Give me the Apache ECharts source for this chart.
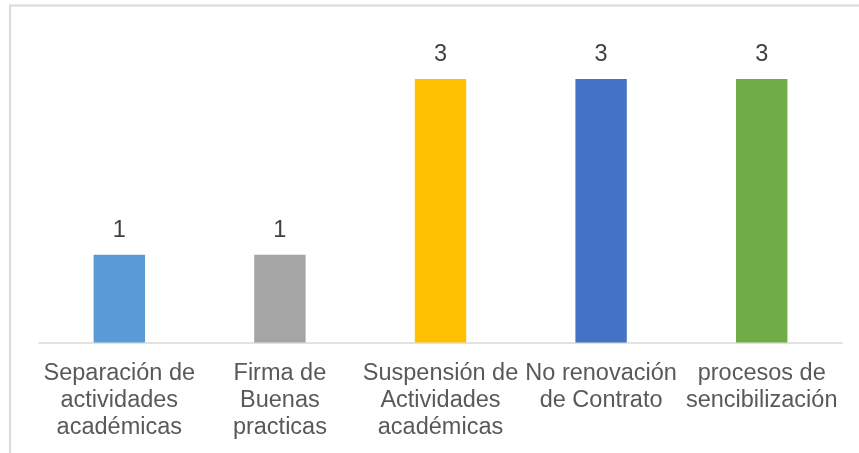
<!DOCTYPE html>
<html>
<head>
<meta charset="utf-8">
<script src="https://cdn.jsdelivr.net/npm/echarts@6/dist/echarts.min.js"></script>
<style>
  html, body { margin: 0; padding: 0; background: #fff; }
  #myChart { width: 859px; height: 453px; }
</style>
</head>
<body>
<div id="myChart"></div>
<script>
// categories (line breaks as in the picture)
var categories = [
  "Separación de\nactividades\nacadémicas",
  "Firma de\nBuenas\npracticas",
  "Suspensión de\nActividades\nacadémicas",
  "No renovación\nde Contrato",
  "procesos de\nsencibilización"
];
var values = [1, 1, 3, 3, 3];
var barColors = ["#5B9BD5", "#A5A5A5", "#FFC000", "#4472C4", "#70AD47"];

var chart = echarts.init(document.getElementById("myChart"));

var options = {
  animation: false,
  textStyle: { fontFamily: "Liberation Sans, Arial, sans-serif" },
  graphic: [
    {
      type: "rect",
      shape: { x: 10, y: 5.5, width: 900, height: 500 },
      style: { fill: "none", stroke: "#D9D9D9", lineWidth: 2 },
      silent: true
    }
  ],
  grid: {
    left: 39,
    right: 17,
    top: 35,
    bottom: 110.5
  },
  xAxis: {
    type: "category",
    data: categories,
    axisTick: { show: false },
    axisLine: {
      lineStyle: { color: "#D9D9D9", width: 1.5 }
    },
    axisLabel: {
      interval: 0,
      margin: 18,
      color: "#595959",
      fontSize: 23.5,
      lineHeight: 27,
      align: "center"
    }
  },
  yAxis: {
    type: "value",
    min: 0,
    max: 3.5,
    show: false,
    splitLine: { show: false }
  },
  series: [
    {
      type: "bar",
      barWidth: "32%",
      data: values.map(function (v, i) {
        return { value: v, itemStyle: { color: barColors[i] } };
      }),
      label: {
        show: true,
        position: "top",
        distance: 12,
        color: "#404040",
        fontSize: 23.5
      }
    }
  ]
};

chart.setOption(options);
</script>
</body>
</html>
